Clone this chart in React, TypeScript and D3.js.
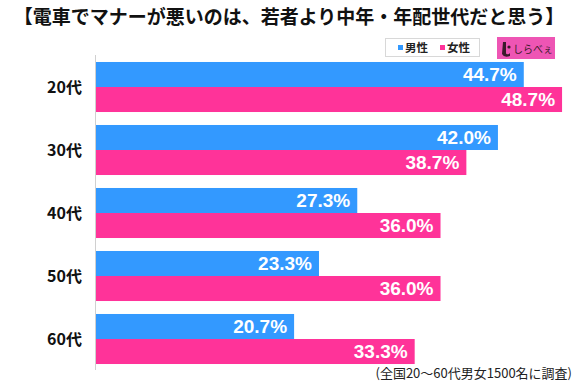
import React from "react";
import * as d3 from "d3";

const categories = ["20代", "30代", "40代", "50代", "60代"];
const seriesNames = ["男性", "女性"];
const maleValues = [44.7, 42.0, 27.3, 23.3, 20.7];
const femaleValues = [48.7, 38.7, 36.0, 36.0, 33.3];
const colors = ["#3399FF", "#FF3399"];
const title = "【電車でマナーが悪いのは、若者より中年・年配世代だと思う】";
const footnote = "(全国20～60代男女1500名に調査)";

const W = 575;
const H = 386;
const JP = "'Noto Sans CJK JP', 'Noto Sans', sans-serif";
const NUM = "'Liberation Sans', Arial, sans-serif";

export default function App() {
  const x = d3.scaleLinear().domain([0, 50]).range([96, 96 + 478.5]);
  const y = d3
    .scaleBand<string>()
    .domain(categories)
    .range([55.5, 370.5])
    .paddingInner(0.206)
    .paddingOuter(0.103);
  const ys = d3
    .scaleBand<string>()
    .domain(seriesNames)
    .range([0, y.bandwidth()]);
  const values = [maleValues, femaleValues];

  return (
    <svg
      width={W}
      height={H}
      style={{ position: "absolute", left: 0, top: 0, background: "#fff" }}
    >
      <rect x={0} y={0} width={W} height={H} fill="#fff" />
      <text
        x={289}
        y={24}
        textAnchor="middle"
        fontFamily={JP}
        fontWeight="bold"
        fontSize={19}
        fill="#111"
      >
        {title}
      </text>

      {/* legend */}
      <rect x={385.5} y={38.5} width={94} height={18} fill="#fff" stroke="#d8d8d8" />
      {seriesNames.map((s, i) => (
        <g key={s}>
          <rect x={398 + i * 42} y={45} width={5} height={5} fill={colors[i]} />
          <text
            x={405 + i * 42}
            y={51.5}
            fontFamily={JP}
            fontWeight="bold"
            fontSize={11.5}
            fill="#222"
          >
            {s}
          </text>
        </g>
      ))}

      {/* logo */}
      <rect x={497} y={37} width={58} height={22} fill="#EE55B4" />
      <path d="M503,42 L506,42 L506,53 Q506,55 509,54 L510,53 L510,56 Q504,58 502,54 Z" fill="#3a1a2a" />
      <circle cx={509} cy={47} r={1.6} fill="#3a1a2a" />
      <text x={513} y={53} fontFamily={JP} fontSize={10} fill="#3a1a2a">
        しらべぇ
      </text>

      {/* axis line */}
      <line x1={95.5} x2={95.5} y1={55} y2={370} stroke="#d0d0d0" strokeWidth={1} />

      {categories.map((c, ci) => (
        <g key={c}>
          <text
            x={82}
            y={(y(c) ?? 0) + y.bandwidth() / 2}
            dy="0.36em"
            textAnchor="end"
            fontFamily={JP}
            fontWeight="bold"
            fontSize={16}
            fill="#111"
          >
            {c}
          </text>
          {seriesNames.map((s, si) => {
            const v = values[si][ci];
            const by = (y(c) ?? 0) + (ys(s) ?? 0);
            return (
              <g key={s}>
                <rect
                  x={x(0)}
                  y={by}
                  width={x(v) - x(0)}
                  height={ys.bandwidth()}
                  fill={colors[si]}
                />
                <text
                  x={x(v) - 7}
                  y={by + ys.bandwidth() / 2}
                  dy="0.36em"
                  textAnchor="end"
                  fontFamily={NUM}
                  fontWeight="bold"
                  fontSize={19}
                  fill="#fff"
                >
                  {v.toFixed(1)}%
                </text>
              </g>
            );
          })}
        </g>
      ))}

      <text
        x={572}
        y={378}
        textAnchor="end"
        fontFamily={JP}
        fontSize={13}
        fill="#222"
      >
        {footnote}
      </text>
    </svg>
  );
}
